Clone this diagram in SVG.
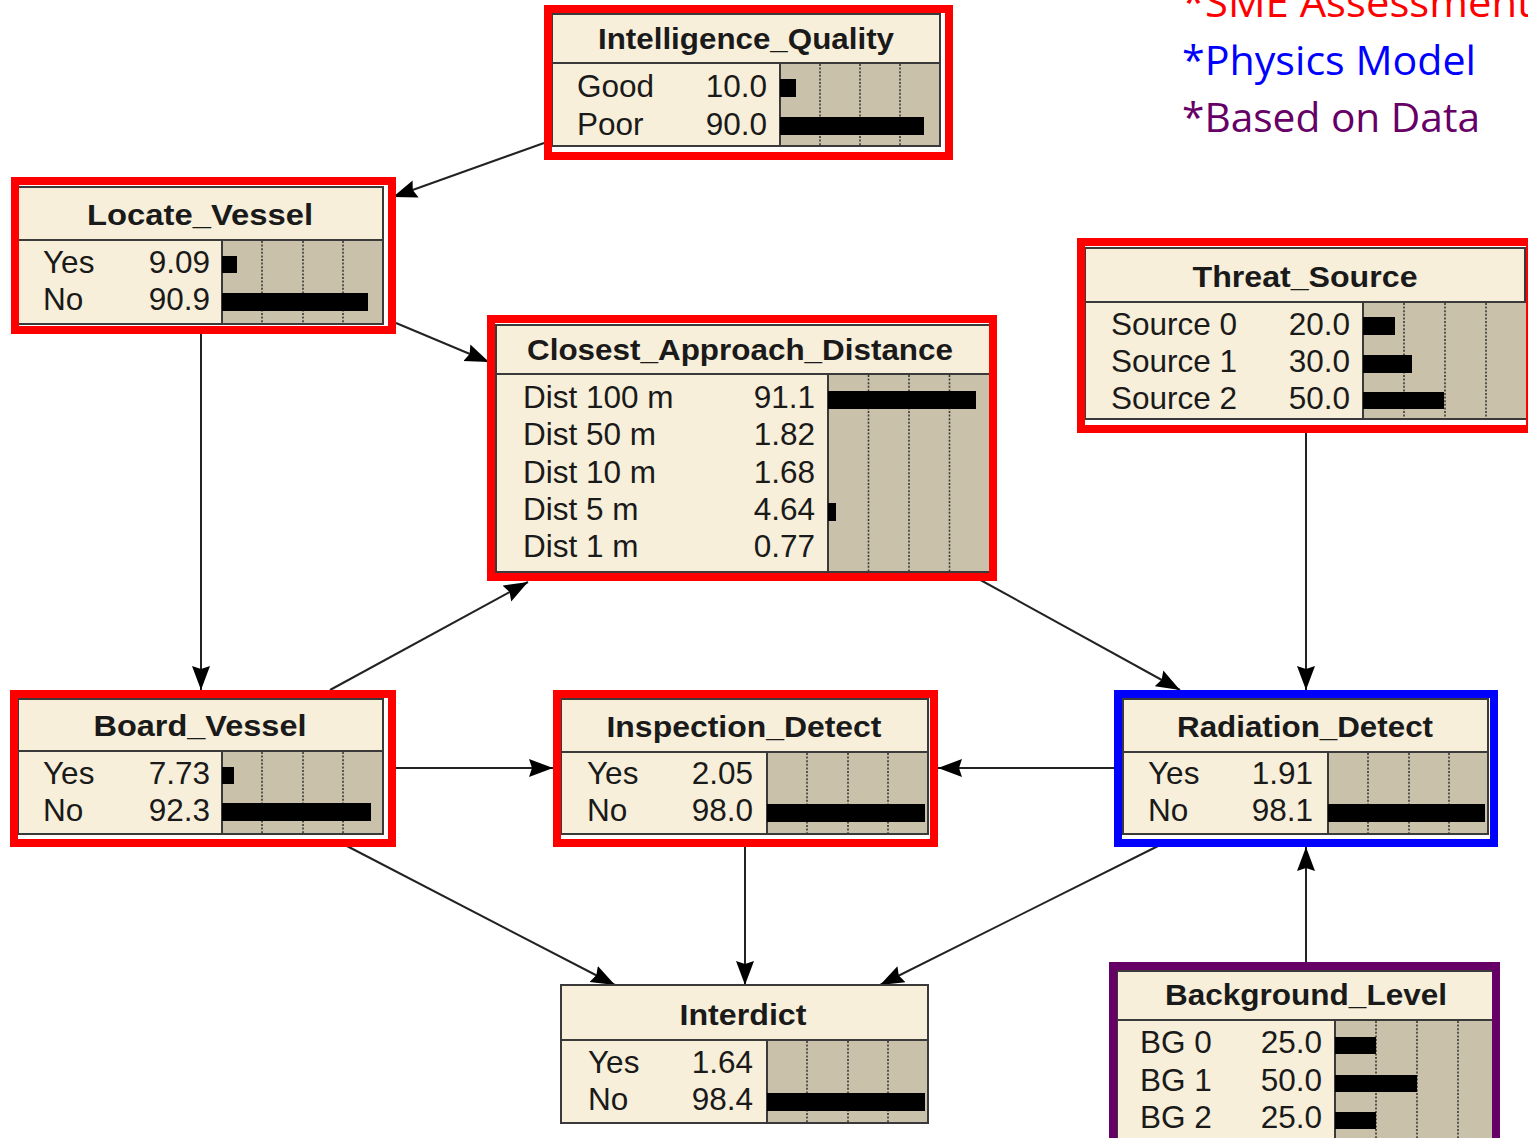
<svg xmlns="http://www.w3.org/2000/svg" width="1528" height="1138" viewBox="0 0 1528 1138">
  <style>
    .box { fill: #F7EFD9; stroke: #3a3a3a; stroke-width: 2; }
    .chart { fill: #C9C1AA; stroke: #3a3a3a; stroke-width: 2; }
    .sep { stroke: #3a3a3a; stroke-width: 2; }
    .grid { stroke: #3a3a3a; stroke-width: 1.6; stroke-dasharray: 2 1.6; fill: none; }
    .bar { fill: #000; }
    .title { font-family: "Liberation Sans", Arial, sans-serif; font-weight: bold; font-size: 30px; fill: #1a1a1a; text-anchor: middle; }
    .lbl { font-family: "Liberation Sans", Arial, sans-serif; font-size: 31.5px; fill: #1a1a1a; }
    .val { font-family: "Liberation Sans", Arial, sans-serif; font-size: 31.5px; fill: #1a1a1a; text-anchor: end; }
    .frame { fill: none; stroke-width: 8; }
    .red { stroke: #FF0000; }
    .blue { stroke: #0000FF; }
    .purple { stroke: #660066; }
    .edge { stroke: #222; stroke-width: 2; fill: none; marker-end: url(#arrow); }
    .legend { font-family: "Open Sans", "Noto Sans", sans-serif; font-size: 40px; }
  </style>
  <defs>
    <marker id="arrow" viewBox="0 0 24 20" refX="24" refY="10" markerWidth="24" markerHeight="20" markerUnits="userSpaceOnUse" orient="auto">
      <path d="M0,1 L24,10 L0,19 L3,10 Z" fill="#000"/>
    </marker>
  </defs>

  <rect width="1528" height="1138" fill="#fff"/>

  <!-- legend -->
  <g id="legend">
    <text class="legend" x="1182" y="17" fill="#FF0000" textLength="350" lengthAdjust="spacingAndGlyphs">*SME Assessment</text>
    <text class="legend" x="1182" y="75" fill="#0000FF" textLength="294" lengthAdjust="spacingAndGlyphs">*Physics Model</text>
    <text class="legend" x="1182" y="132" fill="#660066" textLength="298" lengthAdjust="spacingAndGlyphs">*Based on Data</text>
  </g>

  <!-- links between nodes -->
  <g id="connectors">
    <line class="edge" x1="544" y1="143" x2="393" y2="197"/>
    <line class="edge" x1="396" y1="323" x2="489" y2="362"/>
    <line class="edge" x1="201" y1="330" x2="201" y2="690"/>
    <line class="edge" x1="330" y1="690" x2="528" y2="582"/>
    <line class="edge" x1="390" y1="768" x2="553" y2="768"/>
    <line class="edge" x1="345" y1="845" x2="615" y2="985"/>
    <line class="edge" x1="745" y1="840" x2="745" y2="985"/>
    <line class="edge" x1="1160" y1="845" x2="880" y2="985"/>
    <line class="edge" x1="1114" y1="768" x2="938" y2="768"/>
    <line class="edge" x1="975" y1="577" x2="1180" y2="690"/>
    <line class="edge" x1="1306" y1="425" x2="1306" y2="690"/>
    <line class="edge" x1="1306" y1="962" x2="1306" y2="847"/>
  </g>

  <!-- Intelligence_Quality -->
  <g id="intelligence_quality">
    <rect class="box" x="552" y="14" width="388" height="132"/>
    <rect class="chart" x="780" y="63" width="160" height="83"/>
    <line class="sep" x1="552" y1="63" x2="940" y2="63"/>
    <path class="grid" d="M820 64V145M860 64V145M900 64V145"/>
    <rect class="bar" x="780" y="79" width="16" height="18"/>
    <rect class="bar" x="780" y="117" width="144" height="18"/>
    <text class="title" x="746" y="49" textLength="296" lengthAdjust="spacingAndGlyphs">Intelligence_Quality</text>
    <text class="lbl" x="577" y="97">Good</text>
    <text class="val" x="767" y="97">10.0</text>
    <text class="lbl" x="577" y="135">Poor</text>
    <text class="val" x="767" y="135">90.0</text>
    <rect class="frame red" x="548" y="9" width="401" height="147"/>
  </g>

  <!-- Locate_Vessel -->
  <g id="locate_vessel">
    <rect class="box" x="18" y="187" width="365" height="137"/>
    <rect class="chart" x="222" y="240" width="161" height="84"/>
    <line class="sep" x1="18" y1="240" x2="383" y2="240"/>
    <path class="grid" d="M262 241V323M303 241V323M343 241V323"/>
    <rect class="bar" x="222" y="256" width="15" height="17"/>
    <rect class="bar" x="222" y="293" width="146" height="18"/>
    <text class="title" x="200" y="225" textLength="226" lengthAdjust="spacingAndGlyphs">Locate_Vessel</text>
    <text class="lbl" x="43" y="273">Yes</text>
    <text class="val" x="210" y="273">9.09</text>
    <text class="lbl" x="43" y="310">No</text>
    <text class="val" x="210" y="310">90.9</text>
    <rect class="frame red" x="15" y="181" width="377" height="149"/>
  </g>

  <!-- Closest_Approach_Distance -->
  <g id="closest_approach_distance">
    <rect class="box" x="496" y="325" width="494" height="247"/>
    <rect class="chart" x="828" y="374" width="162" height="198"/>
    <line class="sep" x1="496" y1="374" x2="990" y2="374"/>
    <path class="grid" d="M868.5 375V571M909 375V571M949.5 375V571"/>
    <rect class="bar" x="828" y="391" width="148" height="18"/>
    <rect class="bar" x="828" y="503" width="8" height="18"/>
    <text class="title" x="740" y="360" textLength="426" lengthAdjust="spacingAndGlyphs">Closest_Approach_Distance</text>
    <text class="lbl" x="523" y="408">Dist 100 m</text>
    <text class="val" x="815" y="408">91.1</text>
    <text class="lbl" x="523" y="445">Dist 50 m</text>
    <text class="val" x="815" y="445">1.82</text>
    <text class="lbl" x="523" y="483">Dist 10 m</text>
    <text class="val" x="815" y="483">1.68</text>
    <text class="lbl" x="523" y="520">Dist 5 m</text>
    <text class="val" x="815" y="520">4.64</text>
    <text class="lbl" x="523" y="557">Dist 1 m</text>
    <text class="val" x="815" y="557">0.77</text>
    <rect class="frame red" x="491" y="319" width="502" height="258"/>
  </g>

  <!-- Threat_Source -->
  <g id="threat_source">
    <rect class="box" x="1085" y="248" width="440" height="171"/>
    <rect class="chart" x="1363" y="302" width="164" height="117"/>
    <line class="sep" x1="1085" y1="302" x2="1528" y2="302"/>
    <path class="grid" d="M1404 303V418M1445 303V418M1486 303V418"/>
    <rect class="bar" x="1363" y="317" width="32" height="18"/>
    <rect class="bar" x="1363" y="355" width="49" height="18"/>
    <rect class="bar" x="1363" y="392" width="81" height="17"/>
    <text class="title" x="1305" y="287" textLength="225" lengthAdjust="spacingAndGlyphs">Threat_Source</text>
    <text class="lbl" x="1111" y="335">Source 0</text>
    <text class="val" x="1350" y="335">20.0</text>
    <text class="lbl" x="1111" y="372">Source 1</text>
    <text class="val" x="1350" y="372">30.0</text>
    <text class="lbl" x="1111" y="409">Source 2</text>
    <text class="val" x="1350" y="409">50.0</text>
    <rect class="frame red" x="1081" y="242" width="449" height="187"/>
  </g>

  <!-- Board_Vessel -->
  <g id="board_vessel">
    <rect class="box" x="18" y="699" width="365" height="135"/>
    <rect class="chart" x="222" y="751" width="161" height="83"/>
    <line class="sep" x1="18" y1="751" x2="383" y2="751"/>
    <path class="grid" d="M262 752V833M303 752V833M343 752V833"/>
    <rect class="bar" x="222" y="767" width="12" height="17"/>
    <rect class="bar" x="222" y="803" width="149" height="18"/>
    <text class="title" x="200" y="736" textLength="213" lengthAdjust="spacingAndGlyphs">Board_Vessel</text>
    <text class="lbl" x="43" y="784">Yes</text>
    <text class="val" x="210" y="784">7.73</text>
    <text class="lbl" x="43" y="821">No</text>
    <text class="val" x="210" y="821">92.3</text>
    <rect class="frame red" x="14" y="694" width="378" height="149"/>
  </g>

  <!-- Inspection_Detect -->
  <g id="inspection_detect">
    <rect class="box" x="561" y="699" width="367" height="135"/>
    <rect class="chart" x="767" y="752" width="161" height="82"/>
    <line class="sep" x1="561" y1="752" x2="928" y2="752"/>
    <path class="grid" d="M807 753V833M848 753V833M888 753V833"/>
    <rect class="bar" x="767" y="804" width="158" height="18"/>
    <text class="title" x="744" y="737" textLength="275" lengthAdjust="spacingAndGlyphs">Inspection_Detect</text>
    <text class="lbl" x="587" y="784">Yes</text>
    <text class="val" x="753" y="784">2.05</text>
    <text class="lbl" x="587" y="821">No</text>
    <text class="val" x="753" y="821">98.0</text>
    <rect class="frame red" x="557" y="694" width="377" height="149"/>
  </g>

  <!-- Radiation_Detect -->
  <g id="radiation_detect">
    <rect class="box" x="1123" y="699" width="365" height="135"/>
    <rect class="chart" x="1328" y="752" width="160" height="82"/>
    <line class="sep" x1="1123" y1="752" x2="1488" y2="752"/>
    <path class="grid" d="M1368 753V833M1409 753V833M1449 753V833"/>
    <rect class="bar" x="1328" y="804" width="157" height="18"/>
    <text class="title" x="1305" y="737" textLength="256" lengthAdjust="spacingAndGlyphs">Radiation_Detect</text>
    <text class="lbl" x="1148" y="784">Yes</text>
    <text class="val" x="1313" y="784">1.91</text>
    <text class="lbl" x="1148" y="821">No</text>
    <text class="val" x="1313" y="821">98.1</text>
    <rect class="frame blue" x="1118" y="694" width="376" height="149"/>
  </g>

  <!-- Interdict -->
  <g id="interdict">
    <rect class="box" x="561" y="985" width="367" height="138"/>
    <rect class="chart" x="767" y="1040" width="161" height="83"/>
    <line class="sep" x1="561" y1="1040" x2="928" y2="1040"/>
    <path class="grid" d="M807 1041V1122M848 1041V1122M888 1041V1122"/>
    <rect class="bar" x="767" y="1093" width="158" height="18"/>
    <text class="title" x="743" y="1025" textLength="127" lengthAdjust="spacingAndGlyphs">Interdict</text>
    <text class="lbl" x="588" y="1073">Yes</text>
    <text class="val" x="753" y="1073">1.64</text>
    <text class="lbl" x="588" y="1110">No</text>
    <text class="val" x="753" y="1110">98.4</text>
  </g>

  <!-- Background_Level -->
  <g id="background_level">
    <rect class="box" x="1117" y="971" width="380" height="180"/>
    <rect class="chart" x="1335" y="1020" width="164" height="130"/>
    <line class="sep" x1="1117" y1="1020" x2="1497" y2="1020"/>
    <path class="grid" d="M1376 1021V1140M1417 1021V1140M1458 1021V1140"/>
    <rect class="bar" x="1335" y="1037" width="41" height="17"/>
    <rect class="bar" x="1335" y="1075" width="82" height="17"/>
    <rect class="bar" x="1335" y="1112" width="41" height="17"/>
    <text class="title" x="1306" y="1005" textLength="282" lengthAdjust="spacingAndGlyphs">Background_Level</text>
    <text class="lbl" x="1140" y="1053">BG 0</text>
    <text class="val" x="1322" y="1053">25.0</text>
    <text class="lbl" x="1140" y="1091">BG 1</text>
    <text class="val" x="1322" y="1091">50.0</text>
    <text class="lbl" x="1140" y="1128">BG 2</text>
    <text class="val" x="1322" y="1128">25.0</text>
    <rect class="frame purple" x="1113" y="966" width="383" height="200"/>
  </g>
</svg>
